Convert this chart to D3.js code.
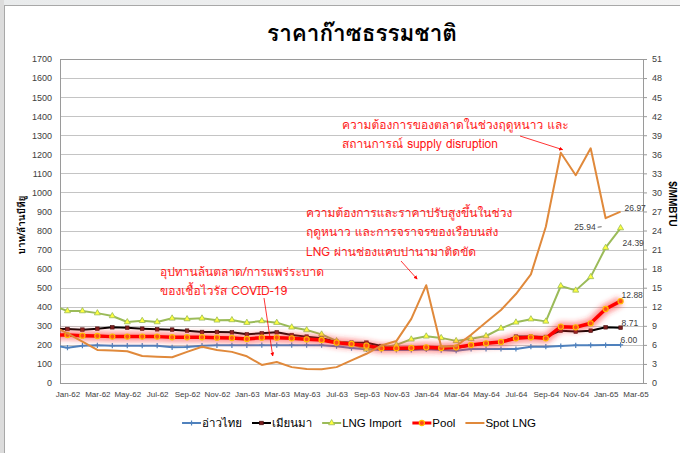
<!DOCTYPE html>
<html>
<head>
<meta charset="utf-8">
<script src="https://cdn.jsdelivr.net/npm/d3@7"></script>
<style>
  body { margin: 0; background: #fff; }
  svg { display: block; font-family: "Liberation Sans", Arial, sans-serif; }
  .thai { font-family: Tahoma, Waree, Loma, Garuda, "Noto Sans Thai Looped", "Noto Sans Thai", "Noto Sans", sans-serif; }
</style>
</head>
<body>
<div id="chart"></div>
<script>
// months on the category axis; Dec-61 only feeds the clipped line stub at the left edge
const months = [
  'Dec-61',
  'Jan-62', 'Feb-62', 'Mar-62', 'Apr-62', 'May-62', 'Jun-62', 'Jul-62', 'Aug-62', 'Sep-62', 'Oct-62', 'Nov-62', 'Dec-62',
  'Jan-63', 'Feb-63', 'Mar-63', 'Apr-63', 'May-63', 'Jun-63', 'Jul-63', 'Aug-63', 'Sep-63', 'Oct-63', 'Nov-63', 'Dec-63',
  'Jan-64', 'Feb-64', 'Mar-64', 'Apr-64', 'May-64', 'Jun-64', 'Jul-64', 'Aug-64', 'Sep-64', 'Oct-64', 'Nov-64', 'Dec-64',
  'Jan-65', 'Feb-65', 'Mar-65',
];

// $/MMBTU, Dec-61 .. Feb-65
const gulfOfThailand = [5.9,
  5.56, 5.88, 5.93, 5.88, 5.88, 5.88, 5.88, 5.61, 5.67, 5.88, 5.93, 5.93,
  5.93, 5.95, 5.95, 5.95, 5.95, 5.95, 5.8, 5.5, 5.3, 5.2, 5.2, 5.2,
  5.3, 5.19, 5.09, 5.35, 5.35, 5.35, 5.35, 5.72, 5.72, 5.82, 5.93, 5.95,
  5.97, 6.0];
const myanmar = [8.5,
  8.5, 8.4, 8.55, 8.77, 8.7, 8.55, 8.45, 8.4, 8.24, 8.03, 8.03, 7.98,
  7.66, 7.82, 7.98, 7.55, 7.3, 7.03, 6.5, 6.35, 6.35, 5.82, 5.4, 5.4,
  5.5, 5.45, 5.5, 5.95, 6.2, 6.4, 7.3, 7.3, 7.25, 8.24, 8.1, 8.24,
  8.77, 8.71];
const lngImport = [12.2,
  11.33, 11.33, 11.0, 10.55, 9.6, 9.8, 9.6, 10.18, 10.07, 10.18, 9.87, 9.92,
  9.5, 9.76, 9.5, 8.77, 8.34, 7.66, 6.61, 6.14, 5.3, 5.56, 6.0, 6.88,
  7.35, 7.1, 6.63, 6.95, 7.4, 8.6, 9.55, 10.05, 9.7, 15.27, 14.58, 16.7,
  21.3, 24.39];
const pool = [7.6,
  7.55, 7.45, 7.4, 7.3, 7.3, 7.3, 7.3, 7.2, 7.2, 7.2, 7.14, 7.08,
  6.93, 7.14, 7.14, 7.03, 6.88, 6.77, 6.35, 6.14, 5.88, 5.46, 5.46, 5.51,
  5.61, 5.5, 5.61, 5.98, 6.25, 6.45, 7.03, 7.19, 7.03, 8.87, 8.77, 9.4,
  11.65, 12.88];
const spotLng = [9.0,
  7.8, 6.5, 5.2, 5.1, 5.0, 4.25, 4.15, 4.05, 4.9, 5.7, 5.2, 4.9,
  4.2, 2.85, 3.3, 2.5, 2.2, 2.15, 2.5, 3.55, 4.6, 5.9, 6.6, 10.1,
  15.4, 5.72, 5.8, 7.6, 9.55, 11.5, 14.0, 17.1, 24.6, 36.25, 32.7, 36.94,
  25.94, 26.97];

const seriesNames = ['อ่าวไทย', 'เมียนมา', 'LNG Import', 'Pool', 'Spot LNG'];
const leftTicks = d3.range(0, 1701, 100);
const rightTicks = d3.range(0, 52, 3);

const title = 'ราคาก๊าซธรรมชาติ';
const leftTitle = 'บาท/ล้านบีทียู';
const rightTitle = '$/MMBTU';

const notes = [
  {lines: ['ความต้องการของตลาดในช่วงฤดูหนาว และ', 'สถานการณ์ supply disruption'], month: 'Nov-64', value: 36.25},
  {lines: ['ความต้องการและราคาปรับสูงขึ้นในช่วง', 'ฤดูหนาว และการจราจรของเรือบนส่ง', 'LNG ผ่านช่องแคบปานามาติดขัด'], month: 'Jan-64', value: 15.4},
  {lines: ['อุปทานล้นตลาด/การแพร่ระบาด', 'ของเชื้อไวรัส COVID-19'], month: 'Mar-63', value: 3.3},
];

const W = 680, H = 453;
const plot = {left: 60, right: 643, top: 59, bottom: 383};

const svg = d3.select('#chart').append('svg').attr('width', W).attr('height', H);
const defs = svg.append('defs');

// frame bits of the screenshot
const grad = defs.append('linearGradient').attr('id', 'topband').attr('x1', 0).attr('x2', 1);
grad.append('stop').attr('offset', '0%').attr('stop-color', '#e9ebec');
grad.append('stop').attr('offset', '100%').attr('stop-color', '#f3f3f3');
svg.append('rect').attr('x', 0).attr('y', 0).attr('width', W).attr('height', 5).attr('fill', 'url(#topband)');
svg.append('rect').attr('x', 0).attr('y', 0).attr('width', 4).attr('height', H).attr('fill', '#dcdcdc');
svg.append('line').attr('x1', 4).attr('x2', W).attr('y1', 5.5).attr('y2', 5.5).attr('stroke', '#a8a8a8');
svg.append('line').attr('x1', 4.5).attr('x2', 4.5).attr('y1', 5).attr('y2', H).attr('stroke', '#a8a8a8');

defs.append('clipPath').attr('id', 'plotclip').append('rect')
  .attr('x', plot.left).attr('y', plot.top - 5)
  .attr('width', plot.right - plot.left).attr('height', plot.bottom - plot.top + 10);

const glow = defs.append('filter').attr('id', 'glow').attr('x', '-10%').attr('y', '-50%').attr('width', '120%').attr('height', '200%');
glow.append('feGaussianBlur').attr('stdDeviation', 2.8);

const x = d3.scaleLinear().domain([0.5, months.length - 0.5]).range([plot.left, plot.right]);
const yL = d3.scaleLinear().domain([0, 1700]).range([plot.bottom, plot.top]);
const yR = d3.scaleLinear().domain([0, 51]).range([plot.bottom, plot.top]);

// gridlines
svg.append('g').selectAll('line').data(leftTicks).join('line')
  .attr('x1', plot.left).attr('x2', plot.right)
  .attr('y1', d => Math.round(yL(d)) + 0.5).attr('y2', d => Math.round(yL(d)) + 0.5)
  .attr('stroke', d => (d === 1700 ? '#9a9a9a' : '#c4c4c4'));

// axes
const axisColor = '#9a9a9a';
const gLeft = svg.append('g').attr('transform', `translate(${plot.left},0)`)
  .call(d3.axisLeft(yL).tickValues(leftTicks).tickSize(0).tickPadding(8).tickFormat(d3.format('d')));
gLeft.select('.domain').attr('stroke', axisColor);
gLeft.selectAll('text').attr('font-size', 9).attr('fill', '#404040');

const gRight = svg.append('g').attr('transform', `translate(${plot.right},0)`)
  .call(d3.axisRight(yR).tickValues(rightTicks).tickSize(4).tickPadding(5).tickFormat(d3.format('d')));
gRight.select('.domain').attr('stroke', axisColor);
gRight.selectAll('line').attr('stroke', axisColor);
gRight.selectAll('text').attr('font-size', 9).attr('fill', '#404040');

const gBottom = svg.append('g').attr('transform', `translate(0,${plot.bottom})`)
  .call(d3.axisBottom(x).tickValues(d3.range(1, months.length, 2)).tickFormat(i => months[i]).tickSize(0).tickPadding(8));
gBottom.select('.domain').attr('stroke', axisColor).attr('d', `M${plot.left},0.5H${plot.right}`);
gBottom.selectAll('text').attr('font-size', 8).attr('fill', '#404040');

// axis titles
svg.append('text').attr('class', 'thai')
  .attr('transform', `translate(25,${(plot.top + plot.bottom) / 2 + 4}) rotate(-90)`)
  .attr('text-anchor', 'middle').attr('font-size', 10).attr('font-weight', 'bold').attr('fill', '#000')
  .text(leftTitle);
svg.append('text')
  .attr('transform', `translate(669,${(plot.top + plot.bottom) / 2 - 17}) rotate(90)`)
  .attr('text-anchor', 'middle').attr('font-size', 10).attr('font-weight', 'bold').attr('fill', '#000')
  .text(rightTitle);

svg.append('text').attr('class', 'thai')
  .attr('x', 362).attr('y', 41).attr('text-anchor', 'middle')
  .attr('font-size', 22.5).attr('font-weight', 'bold').attr('fill', '#000')
  .text(title);

// series
const series = [
  {name: seriesNames[0], values: gulfOfThailand, color: '#4f81bd', width: 2, marker: 'plus'},
  {name: seriesNames[1], values: myanmar, color: '#000000', width: 2, marker: 'square'},
  {name: seriesNames[2], values: lngImport, color: '#9bbb59', width: 2, marker: 'triangle'},
  {name: seriesNames[3], values: pool, color: '#ff0000', width: 3.5, marker: 'circle', glow: true},
  {name: seriesNames[4], values: spotLng, color: '#e0893b', width: 2, marker: null},
];

const line = d3.line().x((d, i) => x(i)).y(d => yR(d));
const plotG = svg.append('g').attr('clip-path', 'url(#plotclip)');

const drawMarker = (g, s, size) => {
  if (s.marker === 'plus') {
    g.append('path').attr('d', `M${-size},0H${size}M0,${-size}V${size}`)
      .attr('stroke', s.color).attr('stroke-width', 1.2).attr('fill', 'none');
  } else if (s.marker === 'square') {
    g.append('rect').attr('x', -1.8).attr('y', -1.8).attr('width', 3.6).attr('height', 3.6)
      .attr('fill', '#7b1f1f').attr('stroke', '#4a0f0f').attr('stroke-width', 0.6);
  } else if (s.marker === 'triangle') {
    g.append('path').attr('d', d3.symbol(d3.symbolTriangle, 16)())
      .attr('fill', '#ffff3c').attr('stroke', '#9bbb59').attr('stroke-width', 0.8);
  } else if (s.marker === 'circle') {
    g.append('circle').attr('r', 2.6).attr('fill', '#ff4d1a').attr('stroke', '#ffc000').attr('stroke-width', 1.1);
  }
};

series.forEach(s => {
  if (s.glow) {
    plotG.append('path').datum(s.values).attr('d', line)
      .attr('fill', 'none').attr('stroke', '#ff3030').attr('stroke-width', 10).attr('stroke-opacity', 0.5)
      .attr('stroke-linejoin', 'round').attr('filter', 'url(#glow)');
  }
  plotG.append('path').datum(s.values).attr('d', line)
    .attr('fill', 'none').attr('stroke', s.color).attr('stroke-width', s.width).attr('stroke-linejoin', 'round');
  if (s.marker) {
    plotG.append('g').selectAll('g').data(s.values.slice(1).map((v, k) => ({v, i: k + 1}))).join('g')
      .attr('transform', d => `translate(${x(d.i)},${yR(d.v)})`)
      .each(function () { drawMarker(d3.select(this), s, 2.6); });
  }
});

// data labels at the last months
const last = months.length - 2;
const labels = [
  {values: spotLng, i: last, dx: 4, dy: -1, anchor: 'start'},
  {values: spotLng, i: last - 1, dx: -10, dy: 12, anchor: 'end', leader: true},
  {values: lngImport, i: last, dx: 2, dy: 18, anchor: 'start'},
  {values: pool, i: last, dx: 1, dy: -3, anchor: 'start'},
  {values: myanmar, i: last, dx: 1, dy: -2, anchor: 'start'},
  {values: gulfOfThailand, i: last, dx: 0, dy: -2, anchor: 'start'},
];
labels.forEach(l => {
  const px = x(l.i), py = yR(l.values[l.i]);
  svg.append('text').attr('x', px + l.dx).attr('y', py + l.dy)
    .attr('text-anchor', l.anchor).attr('font-size', 8.5).attr('fill', '#404040')
    .text(l.values[l.i].toFixed(2));
  if (l.leader) {
    svg.append('line').attr('x1', px + l.dx + 2).attr('x2', px + l.dx + 6)
      .attr('y1', py + l.dy - 3).attr('y2', py + l.dy - 3.5).attr('stroke', '#404040').attr('stroke-width', 0.8);
  }
});

// annotations (cy = vertical centre of the text block)
const noteLayout = [
  {x: 342, cy: 134.5, from: [520, 136], dx: -13, dy: -3},
  {x: 306, cy: 232, from: [401, 261], dx: -9, dy: -6},
  {x: 160, cy: 281.5, from: [264, 298], dx: -4, dy: -6},
];
const noteSize = 12;
// line pitch taken from the font's own box so the lines do not collide
const probe = svg.append('text').attr('class', 'thai').attr('font-size', noteSize).text(notes[1].lines[0]);
const noteGap = Math.max(16, probe.node().getBBox().height + 0.5);
probe.remove();
defs.append('marker').attr('id', 'arrow').attr('viewBox', '0 0 10 10').attr('refX', 9).attr('refY', 5)
  .attr('markerWidth', 5).attr('markerHeight', 5).attr('orient', 'auto')
  .append('path').attr('d', 'M0,0L10,5L0,10z').attr('fill', '#ff0000');
notes.forEach((n, k) => {
  const lay = noteLayout[k];
  const y0 = lay.cy - ((n.lines.length - 1) * noteGap) / 2 + 4;
  n.lines.forEach((ln, j) => {
    svg.append('text').attr('class', 'thai').attr('font-size', noteSize).attr('fill', '#ff1a1a')
      .attr('x', lay.x).attr('y', y0 + j * noteGap).text(ln);
  });
  const mi = months.indexOf(n.month);
  svg.append('line').attr('x1', lay.from[0]).attr('y1', lay.from[1])
    .attr('x2', x(mi) + lay.dx).attr('y2', yR(n.value) + lay.dy)
    .attr('stroke', '#ff0000').attr('stroke-width', 0.8).attr('marker-end', 'url(#arrow)');
});

// legend
const legend = svg.append('g').attr('transform', 'translate(0,423)');
const items = legend.selectAll('g').data(series).join('g');
items.append('line').attr('x1', 0).attr('x2', 19).attr('stroke', d => d.color).attr('stroke-width', d => (d.glow ? 3 : 2));
items.each(function (d) {
  const g = d3.select(this).append('g').attr('transform', 'translate(9.5,0)');
  if (d.marker) drawMarker(g, d, 2.5);
});
items.append('text').attr('class', d => (/[\u0E00-\u0E7F]/.test(d.name) ? 'thai' : null))
  .attr('x', 20).attr('y', 4).attr('font-size', 11.5).attr('fill', '#000').text(d => d.name);
const widths = [];
items.each(function () { widths.push(this.getBBox().width); });
const gap = 10;
const total = d3.sum(widths) + gap * (widths.length - 1);
let cursor = 359 - total / 2;
items.attr('transform', (d, i) => {
  const tx = cursor;
  cursor += widths[i] + gap;
  return `translate(${tx},0)`;
});
</script>
</body>
</html>
